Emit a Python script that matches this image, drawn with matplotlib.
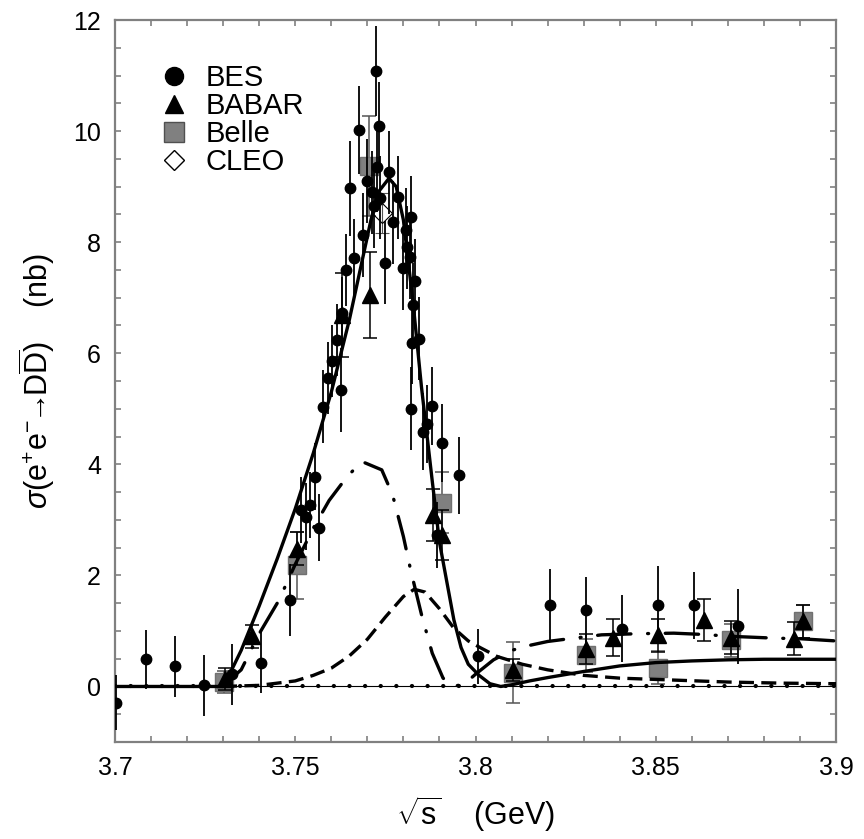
import numpy as np
import matplotlib.pyplot as plt
from matplotlib.lines import Line2D

plt.rcParams['font.family'] = ['Liberation Sans', 'DejaVu Sans']
plt.rcParams['mathtext.fontset'] = 'custom'
plt.rcParams['mathtext.rm'] = 'Liberation Sans'
plt.rcParams['mathtext.it'] = 'Liberation Sans:italic'
plt.rcParams['mathtext.bf'] = 'Liberation Sans:bold'

# BES data
bes_x = [3.7002, 3.7086, 3.7166, 3.7247, 3.7325, 3.7405, 3.7486, 3.7516, 3.7530, 3.7541,
         3.7555, 3.7566, 3.7577, 3.7591, 3.7602, 3.7616, 3.7627, 3.7630, 3.7641, 3.7652,
         3.7663, 3.7677, 3.7688, 3.7699, 3.7713, 3.7718, 3.7724, 3.7727, 3.7732, 3.7735,
         3.7749, 3.7760, 3.7771, 3.7785, 3.7799, 3.7807, 3.7810, 3.7818, 3.7821, 3.7832,
         3.7827, 3.7824, 3.7843, 3.7821, 3.7879, 3.7865, 3.7854, 3.7907, 3.7954, 3.7893,
         3.8007, 3.8207, 3.8307, 3.8406, 3.8506, 3.8606, 3.8728]
bes_y = [-0.29, 0.49, 0.36, 0.02, 0.22, 0.43, 1.55, 3.18, 3.06, 3.27,
         3.78, 2.86, 5.04, 5.56, 5.86, 6.24, 5.34, 6.72, 7.50, 8.97,
         7.72, 10.02, 8.13, 9.10, 8.90, 8.65, 11.08, 9.35, 10.09, 8.80,
         7.63, 9.26, 8.36, 8.81, 7.53, 8.22, 7.91, 7.73, 8.45, 7.30,
         6.87, 6.19, 6.26, 5.00, 5.05, 4.73, 4.59, 4.39, 3.80, 2.73,
         0.54, 1.46, 1.38, 1.04, 1.47, 1.46, 1.08]
bes_err = [0.50, 0.53, 0.55, 0.55, 0.55, 0.55, 0.65, 0.60, 0.60, 0.60,
           0.60, 0.60, 0.65, 0.65, 0.65, 0.65, 0.75, 0.65, 0.65, 0.85,
           0.70, 0.80, 0.75, 0.75, 0.75, 0.75, 0.81, 0.80, 0.80, 0.75,
           0.75, 0.75, 0.75, 0.75, 0.75, 0.75, 0.75, 0.75, 0.75, 0.75,
           0.75, 0.75, 0.75, 0.75, 0.70, 0.70, 0.70, 0.70, 0.70, 0.60,
           0.50, 0.65, 0.60, 0.60, 0.70, 0.60, 0.67]

# BABAR data
babar_x = [3.7305, 3.7380, 3.7505, 3.7630, 3.7707, 3.7882, 3.7907, 3.8104,
           3.8307, 3.8382, 3.8506, 3.8634, 3.8709, 3.8884, 3.8908]
babar_y = [0.13, 0.90, 2.48, 6.69, 7.05, 3.09, 2.73, 0.30,
           0.68, 0.88, 0.92, 1.19, 0.88, 0.86, 1.17]
babar_err = [0.20, 0.20, 0.30, 0.75, 0.77, 0.47, 0.45, 0.20,
             0.27, 0.33, 0.30, 0.38, 0.30, 0.30, 0.30]

# Belle data
belle_x = [3.7302, 3.7505, 3.7705, 3.7907, 3.8104, 3.8307, 3.8506, 3.8709, 3.8908]
belle_y = [0.08, 2.18, 9.38, 3.31, 0.25, 0.56, 0.34, 0.83, 1.17]
belle_err = [0.20, 0.60, 0.90, 0.55, 0.55, 0.30, 0.30, 0.30, 0.30]

# CLEO data
cleo_x = [3.7740]
cleo_y = [8.52]
cleo_err = [0.36]

# fit curves
total_x = [3.700, 3.7297, 3.732, 3.735, 3.740, 3.745, 3.750, 3.755, 3.760, 3.765,
           3.768, 3.771, 3.773, 3.776, 3.778, 3.780, 3.7827, 3.785, 3.788, 3.790,
           3.792, 3.794, 3.796, 3.798, 3.801, 3.804, 3.807, 3.810, 3.815, 3.820,
           3.830, 3.840, 3.850, 3.860, 3.870, 3.880, 3.900]
total_y = [0.0, 0.0, 0.25, 0.65, 1.45, 2.3, 3.2, 4.2, 5.3, 6.6,
           7.5, 8.4, 8.9, 9.15, 9.0, 8.4, 6.9, 5.4, 3.7, 2.6,
           1.9, 1.2, 0.7, 0.4, 0.2, 0.05, 0.0, 0.03, 0.1, 0.16,
           0.27, 0.37, 0.43, 0.46, 0.48, 0.49, 0.49]

psi_x = [3.7297, 3.735, 3.740, 3.745, 3.7472, 3.750, 3.755, 3.7594, 3.7644, 3.7685,
         3.774, 3.777, 3.780, 3.782, 3.785, 3.788, 3.791, 3.794, 3.797, 3.800,
         3.805, 3.810, 3.815, 3.820, 3.826, 3.835, 3.845, 3.855, 3.862, 3.872,
         3.883, 3.890, 3.900]
psi_y = [0.0, 0.3, 0.95, 1.5, 1.8, 2.2, 2.85, 3.35, 3.78, 4.05,
         3.9, 3.45, 2.7, 2.1, 1.3, 0.6, 0.15, 0.0, 0.05, 0.22,
         0.48, 0.65, 0.74, 0.81, 0.86, 0.93, 0.95, 0.96, 0.94, 0.90,
         0.87, 0.86, 0.82]

cont_x = [3.7297, 3.740, 3.750, 3.755, 3.760, 3.765, 3.770, 3.775, 3.780, 3.783,
          3.786, 3.790, 3.794, 3.798, 3.8013, 3.806, 3.813, 3.820, 3.830, 3.840,
          3.853, 3.870, 3.885, 3.900]
cont_y = [0.0, 0.02, 0.1, 0.2, 0.33, 0.55, 0.85, 1.25, 1.62, 1.75,
          1.7, 1.4, 1.05, 0.82, 0.7, 0.54, 0.4, 0.3, 0.2, 0.15,
          0.12, 0.08, 0.06, 0.05]

zero_x = [3.70, 3.90]
zero_y = [0.0, 0.0]

fig = plt.figure(figsize=(8.64, 8.39), dpi=100)
ax = fig.add_axes([0.1331, 0.1156, 0.8345, 0.8605])

# data points
ax.errorbar(belle_x, belle_y, yerr=belle_err, fmt='s', ms=13, mfc='#808080',
            mec='#707070', ecolor='#555555', elinewidth=1.1, capsize=5, capthick=1.1,
            zorder=2)
ax.errorbar(cleo_x, cleo_y, yerr=cleo_err, fmt='D', ms=10, mfc='none',
            mec='black', mew=0.8, ecolor='#555555', elinewidth=0.8, capsize=5,
            capthick=0.8, zorder=3)
ax.errorbar(babar_x, babar_y, yerr=babar_err, fmt='^', ms=12, color='black',
            elinewidth=1.1, capsize=5, capthick=1.1, zorder=4)
ax.errorbar(bes_x, bes_y, yerr=bes_err, fmt='o', ms=7.5, color='black',
            elinewidth=1.3, capsize=0, zorder=5)

# curves
ax.axhline(0, color='black', lw=0.8, zorder=6)
ax.plot(zero_x, zero_y, color='black', lw=3.0, dashes=(0.05, 3.7),
        dash_capstyle='round', zorder=6)
ax.plot(total_x, total_y, color='black', lw=2.4, zorder=7)
ax.plot(psi_x, psi_y, color='black', lw=2.4, dashes=(10, 5, 0.3, 5),
        dash_capstyle='round', zorder=7)
ax.plot(cont_x, cont_y, color='black', lw=2.4, dashes=(4.5, 2.2), zorder=7)

ax.set_xlim(3.7, 3.9)
ax.set_ylim(-1, 12)
ax.set_xticks([3.7, 3.75, 3.8, 3.85, 3.9])
ax.set_xticklabels(['3.7', '3.75', '3.8', '3.85', '3.9'])
ax.set_xticks(np.arange(3.7, 3.9001, 0.01), minor=True)
ax.set_yticks([0, 2, 4, 6, 8, 10, 12])
ax.set_yticks(np.arange(-1, 12.01, 0.5), minor=True)
ax.tick_params(which='both', direction='in', top=True, right=True,
               length=4.5, width=1.2, color='#808080', labelsize=18, pad=10)
for sp in ax.spines.values():
    sp.set_color('#808080')
    sp.set_linewidth(1.6)

ax.set_xlabel(r'$\sqrt{\mathrm{s}}$    (GeV)', fontsize=22, labelpad=10)
ax.set_ylabel(r'$\sigma$(e$^{+}$e$^{-}\!\!\rightarrow\!\!$D$\overline{\mathrm{D}}$)    (nb)',
              fontsize=22, labelpad=12)

handles = [
    Line2D([], [], ls='none', marker='o', ms=13, color='black'),
    Line2D([], [], ls='none', marker='^', ms=13, color='black'),
    Line2D([], [], ls='none', marker='s', ms=14, mfc='#808080', mec='#505050'),
    Line2D([], [], ls='none', marker='D', ms=10, mfc='white', mec='black', mew=1.0),
]
ax.legend(handles, ['BES', 'BABAR', 'Belle', 'CLEO'], loc='upper left',
          bbox_to_anchor=(0.045, 0.955), frameon=False, fontsize=21,
          labelspacing=0.0, handlelength=1.0, handletextpad=0.6,
          borderaxespad=0.0)

plt.savefig('out.png', dpi=100)
